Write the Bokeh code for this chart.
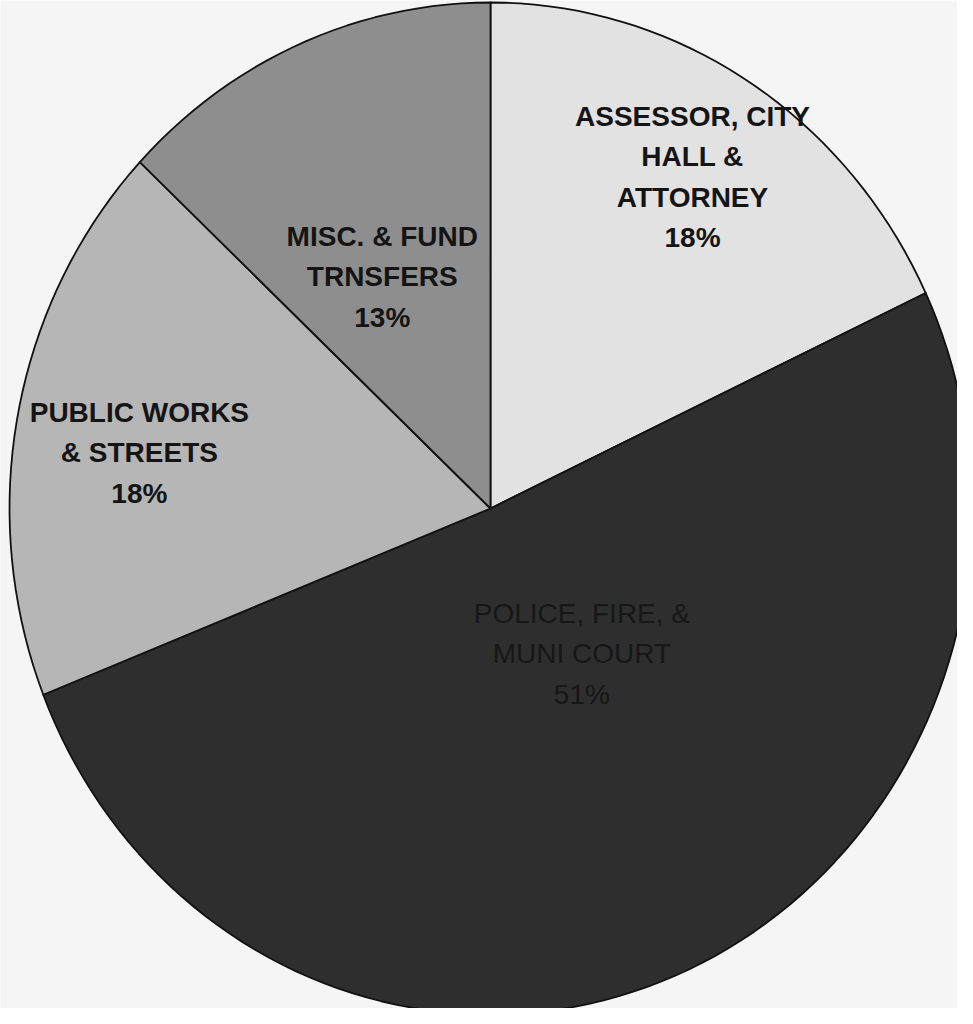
import numpy as np
from bokeh.plotting import figure
from bokeh.models import ColumnDataSource, Range1d
from bokeh.core.properties import value
from bokeh.embed import file_html
from bokeh.resources import INLINE

# ---- data ----
categories = ["ASSESSOR, CITY\nHALL &\nATTORNEY",
              "POLICE, FIRE, &\nMUNI COURT",
              "PUBLIC WORKS\n& STREETS",
              "MISC. & FUND\nTRNSFERS"]
shares = [18, 51, 18, 13]          # percent
fill_colors = ["#e2e2e2", "#2e2e2e", "#b6b6b6", "#8e8e8e"]
text_colors = ["#141414", "#171717", "#141414", "#141414"]
text_weights = ["bold", "normal", "bold", "bold"]

# ---- layout (pixels) ----
W, H = 957, 1008
CX, CY = 490, 508      # pie centre in canvas pixels
RX, RY = 481, 506      # pie radii (scan is slightly elliptical)

# label anchor positions in unit-pie coordinates
label_x = [0.42, 0.19, -0.73, -0.225]
label_y = [0.655, -0.287, 0.11, 0.458]

p = figure(width=W, height=H, output_backend="svg", toolbar_location=None,
           x_range=Range1d(-CX / RX, (W - CX) / RX),
           y_range=Range1d(-(H - CY) / RY, CY / RY),
           min_border=0)
p.axis.visible = False
p.grid.visible = False
p.outline_line_color = None
p.background_fill_color = "#f5f5f5"
p.border_fill_color = "#f5f5f5"

# build slices clockwise from 12 o'clock
total = float(sum(shares))
xs, ys = [], []
start = np.pi / 2
for s in shares:
    sweep = 2 * np.pi * s / total
    t = np.linspace(start, start - sweep, max(8, int(200 * s / total) + 2))
    xs.append(np.concatenate([[0.0], np.cos(t), [0.0]]))
    ys.append(np.concatenate([[0.0], np.sin(t), [0.0]]))
    start -= sweep

src = ColumnDataSource(dict(xs=xs, ys=ys, color=fill_colors))
p.patches("xs", "ys", source=src, fill_color="color", line_color="#111111",
          line_width=1.8, line_join="round")

labels = [f"{c}\n{s}%" for c, s in zip(categories, shares)]
lsrc = ColumnDataSource(dict(x=label_x, y=label_y, text=labels,
                             color=text_colors, weight=text_weights))
p.text("x", "y", text="text", source=lsrc, text_align="center",
       text_baseline="middle", text_font=value("Liberation Sans"),
       text_font_size="28px", text_font_style="weight", text_color="color",
       text_line_height=1.3)

open("out.html", "w").write(file_html(p, INLINE))
